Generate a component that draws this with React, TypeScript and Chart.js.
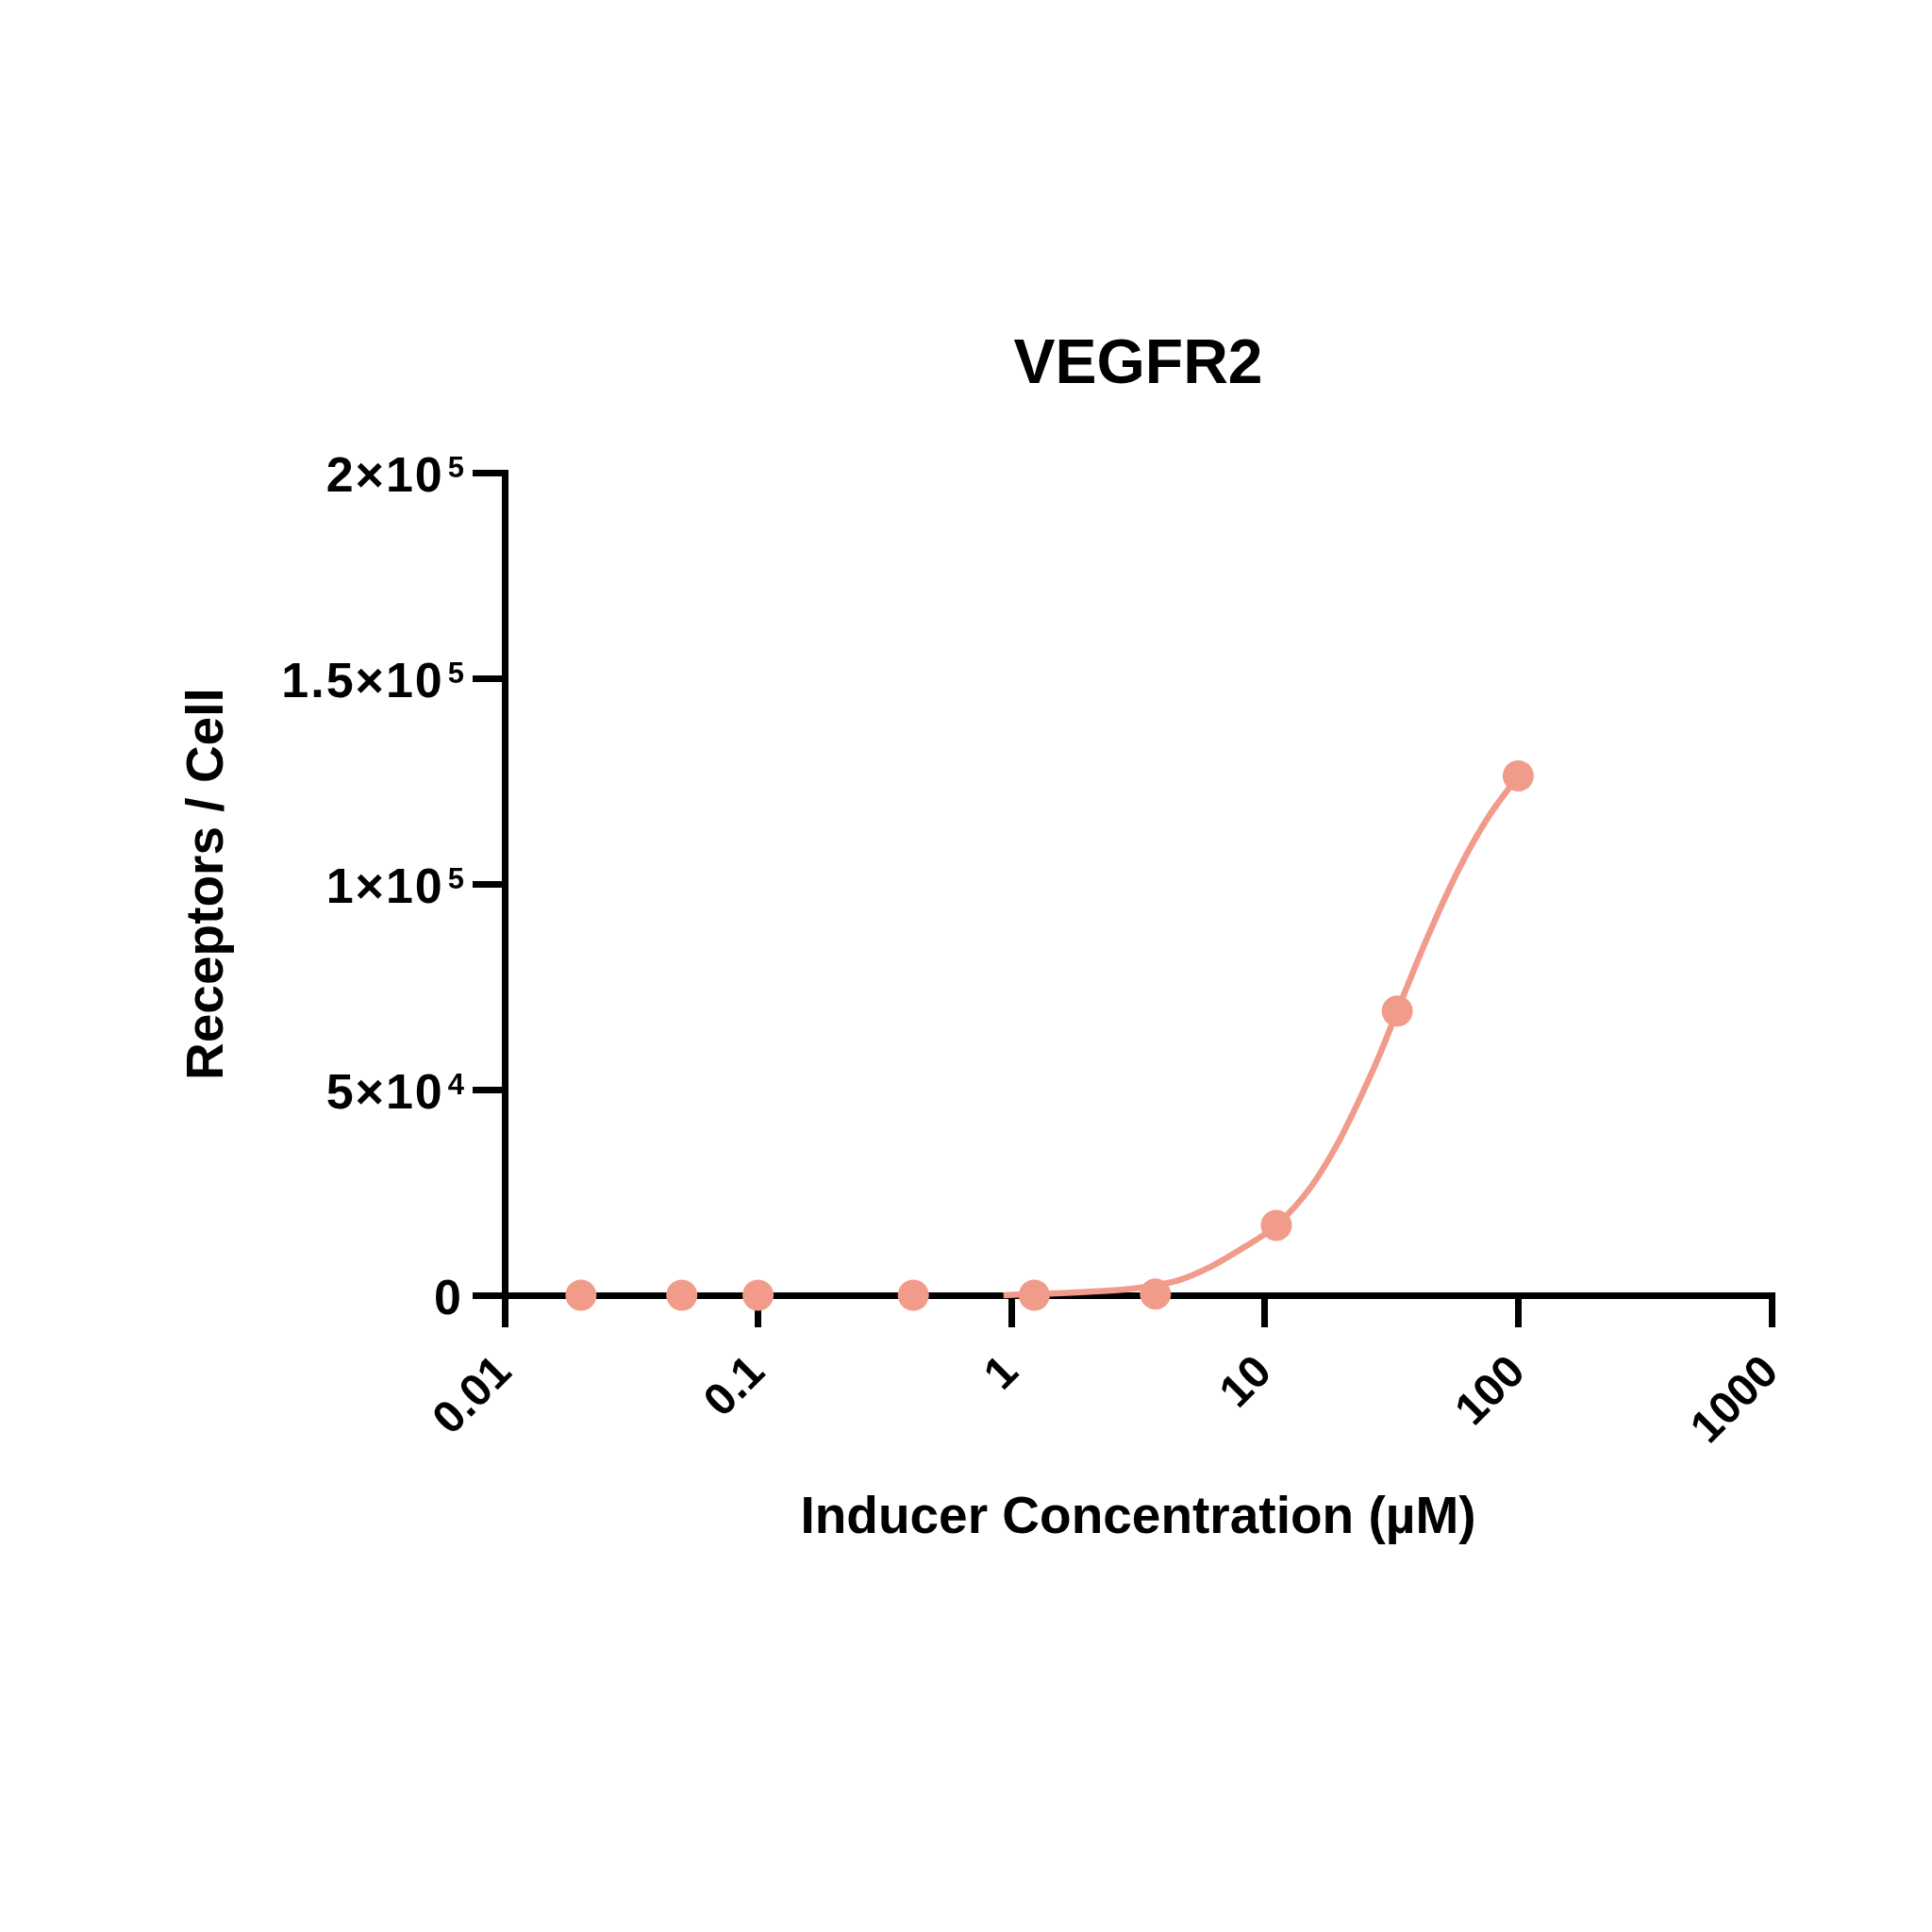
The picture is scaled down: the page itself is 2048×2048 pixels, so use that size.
import React, { useEffect, useRef } from "react";
import { Chart, registerables } from "chart.js";

Chart.register(...registerables);

// Measured data points (inducer concentration in µM, receptors per cell)
const concentrations = [0.02, 0.05, 0.1, 0.41, 1.23, 3.7, 11.1, 33.3, 100];
const receptors = [0, 0, 0, 0, 0, 300, 17000, 69100, 126300];

// Fitted curve
const fitX = [0.93, 1.8, 3.0, 4.6, 6.1, 8.2, 11.1, 15.3, 19.3, 23.5, 27.9, 33.3, 44, 58.7, 76, 100];
const fitY = [0, 700, 1600, 3700, 6900, 11500, 17000, 26600, 36700, 47300, 57400, 69100, 87300, 104000, 116200, 126300];

// Axes
const xTickValues = [0.01, 0.1, 1, 10, 100, 1000];
const xTickLabels = ["0.01", "0.1", "1", "10", "100", "1000"];
const yTickValues = [0, 50000, 100000, 150000, 200000];
const yTickBases = ["0", "5×10", "1×10", "1.5×10", "2×10"];
const yTickExponents = ["", "4", "5", "5", "5"];

const chartTitle = "VEGFR2";
const xTitle = "Inducer Concentration (µM)";
const yTitle = "Receptors / Cell";

const FONT = "'Liberation Sans', Arial, Helvetica, sans-serif";
const SALMON = "#F19B8B";
const BLACK = "#000000";

// Draws the y tick labels with real superscript exponents
const yLabelPlugin = {
  id: "yLabelsWithExponents",
  afterDraw(chart: any) {
    const s = chart.scales.y;
    const ctx = chart.ctx as CanvasRenderingContext2D;
    ctx.save();
    ctx.fillStyle = BLACK;
    ctx.textBaseline = "alphabetic";
    ctx.textAlign = "right";
    const anchor = s.right - 43;
    yTickValues.forEach((v, i) => {
      const py = s.getPixelForValue(v);
      const exp = yTickExponents[i];
      let baseRight = anchor - 1;
      if (exp) {
        ctx.font = `bold 31px ${FONT}`;
        (ctx as any).letterSpacing = "0px";
        ctx.fillText(exp, anchor, py + 5);
        baseRight = anchor - ctx.measureText(exp).width - 4;
      }
      ctx.font = `bold 52px ${FONT}`;
      (ctx as any).letterSpacing = "2px";
      ctx.fillText(yTickBases[i], baseRight, py + 20);
    });
    (ctx as any).letterSpacing = "0px";
    ctx.restore();
  },
};

export default function App() {
  const ref = useRef<HTMLCanvasElement>(null);

  useEffect(() => {
    if (!ref.current) return;
    const chart = new Chart(ref.current, {
      type: "scatter",
      data: {
        datasets: [
          {
            type: "line",
            data: fitX.map((x, i) => ({ x, y: fitY[i] })),
            borderColor: SALMON,
            backgroundColor: SALMON,
            borderWidth: 6.5,
            pointRadius: 0,
            cubicInterpolationMode: "monotone",
            fill: false,
            clip: false,
            order: 2,
          } as any,
          {
            type: "scatter",
            data: concentrations.map((x, i) => ({ x, y: receptors[i] })),
            backgroundColor: SALMON,
            borderColor: SALMON,
            borderWidth: 0,
            pointRadius: 16.5,
            clip: false,
            order: 1,
          } as any,
        ],
      },
      options: {
        responsive: false,
        devicePixelRatio: 1,
        animation: false,
        layout: { padding: { left: 188, right: 170, top: 348, bottom: 395 } },
        plugins: {
          legend: { display: false },
          tooltip: { enabled: false },
          title: {
            display: true,
            text: chartTitle,
            fullSize: false,
            color: BLACK,
            font: { family: FONT, size: 66, weight: "bold", lineHeight: 1.2 },
            padding: { top: 0, bottom: 74 },
          },
        },
        scales: {
          x: {
            type: "logarithmic",
            position: "bottom",
            min: 0.01,
            max: 1000,
            afterBuildTicks: (s: any) => {
              s.ticks = xTickValues.map((v) => ({ value: v }));
            },
            afterFit: (s: any) => {
              s.height = 280;
            },
            ticks: {
              autoSkip: false,
              minRotation: 45,
              maxRotation: 45,
              padding: 20,
              color: BLACK,
              font: { family: FONT, size: 48, weight: "bold" },
              callback: (_v: any, i: number) => xTickLabels[i],
            },
            grid: {
              display: true,
              drawOnChartArea: false,
              drawTicks: true,
              tickLength: 34,
              tickWidth: 7,
              tickColor: BLACK,
              color: BLACK,
              lineWidth: 7,
            },
            border: { display: true, color: BLACK, width: 7 },
            title: {
              display: true,
              text: xTitle,
              color: BLACK,
              font: { family: FONT, size: 55, weight: "bold", lineHeight: 1.2 },
              padding: { top: 0, bottom: 10 },
            },
          },
          y: {
            type: "linear",
            position: "left",
            min: 0,
            max: 200000,
            afterBuildTicks: (s: any) => {
              s.ticks = yTickValues.map((v) => ({ value: v }));
            },
            afterFit: (s: any) => {
              s.width = 347;
            },
            ticks: {
              display: false,
              autoSkip: false,
            },
            grid: {
              display: true,
              drawOnChartArea: false,
              drawTicks: true,
              tickLength: 34,
              tickWidth: 7,
              tickColor: BLACK,
              color: BLACK,
              lineWidth: 7,
            },
            border: { display: true, color: BLACK, width: 7 },
            title: {
              display: true,
              text: yTitle,
              color: BLACK,
              font: { family: FONT, size: 55, weight: "bold", lineHeight: 1.2 },
              padding: { top: 0, bottom: 0 },
            },
          },
        },
      } as any,
      plugins: [yLabelPlugin],
    });
    return () => chart.destroy();
  }, []);

  return (
    <div
      style={{
        position: "absolute",
        left: 0,
        top: 0,
        width: 2048,
        height: 2048,
        background: "#ffffff",
      }}
    >
      <canvas
        ref={ref}
        width={2048}
        height={2048}
        style={{ display: "block", width: 2048, height: 2048 }}
      />
    </div>
  );
}
